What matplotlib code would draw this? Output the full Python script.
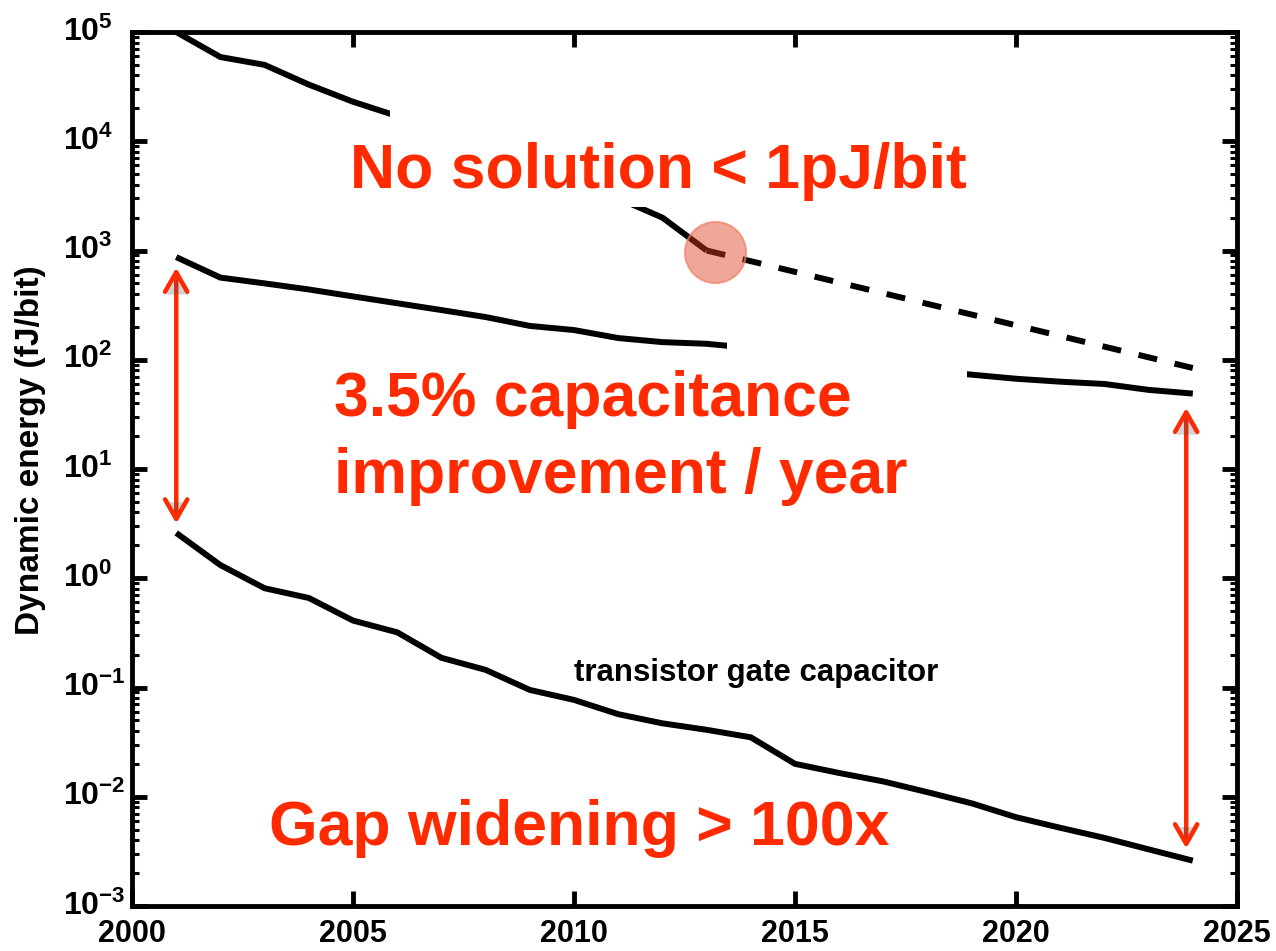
import math
import matplotlib
matplotlib.use("Agg")
import matplotlib.pyplot as plt
import matplotlib.patheffects as pe
import matplotlib.transforms as mtransforms
from matplotlib.patches import Rectangle
from matplotlib.ticker import FixedLocator, LogLocator, FuncFormatter, NullFormatter, NullLocator

plt.rcParams['font.family'] = ['Liberation Sans', 'DejaVu Sans']
plt.rcParams['mathtext.fontset'] = 'custom'
plt.rcParams['mathtext.rm'] = 'Liberation Sans:bold'
plt.rcParams['mathtext.it'] = 'Liberation Sans:bold'
plt.rcParams['mathtext.bf'] = 'Liberation Sans:bold'
plt.rcParams['mathtext.default'] = 'rm'

# ---- data (fJ/bit) ----
offchip_years = [2001, 2002, 2003, 2004, 2005, 2006, 2007, 2008, 2009, 2010, 2011, 2012, 2013]
offchip_energy = [1.0e5, 5.9e4, 5.0e4, 3.3e4, 2.3e4, 1.7e4, 1.25e4, 9.0e3, 6.5e3, 4.5e3, 3.0e3, 2.0e3, 1.0e3]

projection_years = [2013, 2024]
projection_energy = [1.0e3, 84]

years = list(range(2001, 2025))
wire_energy = [870, 565, 500, 440, 380, 329, 285, 246, 204, 187, 158, 145, 140,
               128, 115, 102, 90, 80, 73, 67, 63, 60, 53, 49]
gate_energy = [2.6, 1.32, 0.81, 0.66, 0.41, 0.32, 0.187, 0.145, 0.095, 0.077, 0.057, 0.047,
               0.041, 0.035, 0.020, 0.0165, 0.0138, 0.011, 0.0087, 0.0065, 0.0052, 0.0042,
               0.0033, 0.0026]

highlight_year, highlight_energy = 2013.2, 970

gap_left_year, gap_left_top, gap_left_bottom = 2001, 690, 3.2
gap_right_year, gap_right_top, gap_right_bottom = 2023.85, 36, 0.0034

x_ticks = [2000, 2005, 2010, 2015, 2020, 2025]
y_ticks = [1e-3, 1e-2, 1e-1, 1e0, 1e1, 1e2, 1e3, 1e4, 1e5]

RED = '#ff2a00'
W, H = 1276, 951


def fx(px):
    return px / W


def fy(py):
    return 1 - py / H


fig = plt.figure(figsize=(W / 100, H / 100), dpi=100)
ax = fig.add_axes([fx(132), fy(906), (1237 - 132) / W, (906 - 32) / H])
ax.set_yscale('log')
ax.set_xlim(2000, 2025)
ax.set_ylim(1e-3, 1e5)

LW = 4.3
ax.plot(offchip_years, offchip_energy, color='k', lw=LW, solid_capstyle='butt',
        solid_joinstyle='round', zorder=2)
ax.plot(projection_years, projection_energy, color='k', lw=LW, dashes=(3.2, 3.0),
        dash_capstyle='butt', zorder=2)
ax.plot(years, wire_energy, color='k', lw=LW, solid_capstyle='butt',
        solid_joinstyle='round', zorder=2)
ax.plot(years, gate_energy, color='k', lw=LW, solid_capstyle='butt',
        solid_joinstyle='round', zorder=2)

# white panels behind the callouts
for x0, y0, x1, y1 in [(390, 100, 980, 207), (727, 325, 967, 385)]:
    ax.add_patch(Rectangle((fx(x0), fy(y1)), fx(x1) - fx(x0), fy(y0) - fy(y1),
                           transform=fig.transFigure, facecolor='white',
                           edgecolor='none', zorder=2.2, clip_on=False))

# highlighted point
ax.plot([highlight_year], [highlight_energy], 'o', ms=44,
        mfc=(220 / 255, 60 / 255, 30 / 255, 0.45),
        mec=(0.95, 0.5, 0.4, 0.7), mew=1.5, zorder=4)

# gap arrows
shadow = [pe.withSimplePatchShadow(offset=(1, -2), alpha=0.25), pe.Normal()]
for xa, ytop, ybot in [(gap_left_year, gap_left_top, gap_left_bottom),
                       (gap_right_year, gap_right_top, gap_right_bottom)]:
    ann = ax.annotate('', xy=(xa, ybot), xytext=(xa, ytop),
                      arrowprops=dict(arrowstyle='<->,head_length=14,head_width=8',
                                      color=RED, lw=3, shrinkA=0, shrinkB=0,
                                      mutation_scale=1))
    ann.arrow_patch.set_path_effects(shadow)
    ann.set_zorder(5)

# axes styling
for s in ax.spines.values():
    s.set_linewidth(3.5)
ax.xaxis.set_major_locator(FixedLocator(x_ticks))
ax.xaxis.set_minor_locator(NullLocator())
ax.yaxis.set_major_locator(FixedLocator(y_ticks))
ax.yaxis.set_minor_locator(LogLocator(base=10, subs=range(2, 10), numticks=20))
ax.yaxis.set_minor_formatter(NullFormatter())
ax.yaxis.set_major_formatter(FuncFormatter(lambda v, p: r'$10^{%d}$' % round(math.log10(v))))
ax.tick_params(which='major', direction='in', length=11, width=3.5, top=True, right=True)
ax.tick_params(axis='x', labelsize=22, pad=9)
ax.tick_params(axis='y', labelsize=23, pad=50)
ax.tick_params(axis='y', which='minor', direction='in', length=5, width=2.2, left=True, right=True)
for lab in ax.get_xticklabels():
    lab.set_fontweight('bold')
lift = mtransforms.ScaledTranslation(0, 2.5 / 72, fig.dpi_scale_trans)
for lab in ax.get_yticklabels():
    lab.set_horizontalalignment('left')
    lab.set_transform(lab.get_transform() + lift)

ax.set_ylabel('Dynamic energy (fJ/bit)', fontsize=24, fontweight='bold')
ax.yaxis.set_label_coords(-0.078, 0.522)

# callouts
big = dict(color=RED, fontsize=45, fontweight='bold', ha='left', va='baseline', zorder=6)
fig.text(fx(350), fy(188), 'No solution < 1pJ/bit', **big)
fig.text(fx(334), fy(416), '3.5% capacitance', **big)
fig.text(fx(334), fy(493), 'improvement / year', **big)
fig.text(fx(269), fy(845), 'Gap widening > 100x', **big)
fig.text(fx(574), fy(681), 'transistor gate capacitor', color='k', fontsize=22.5,
         fontweight='bold', ha='left', va='baseline', zorder=6)

fig.savefig('out.png', dpi=100, facecolor='white')
